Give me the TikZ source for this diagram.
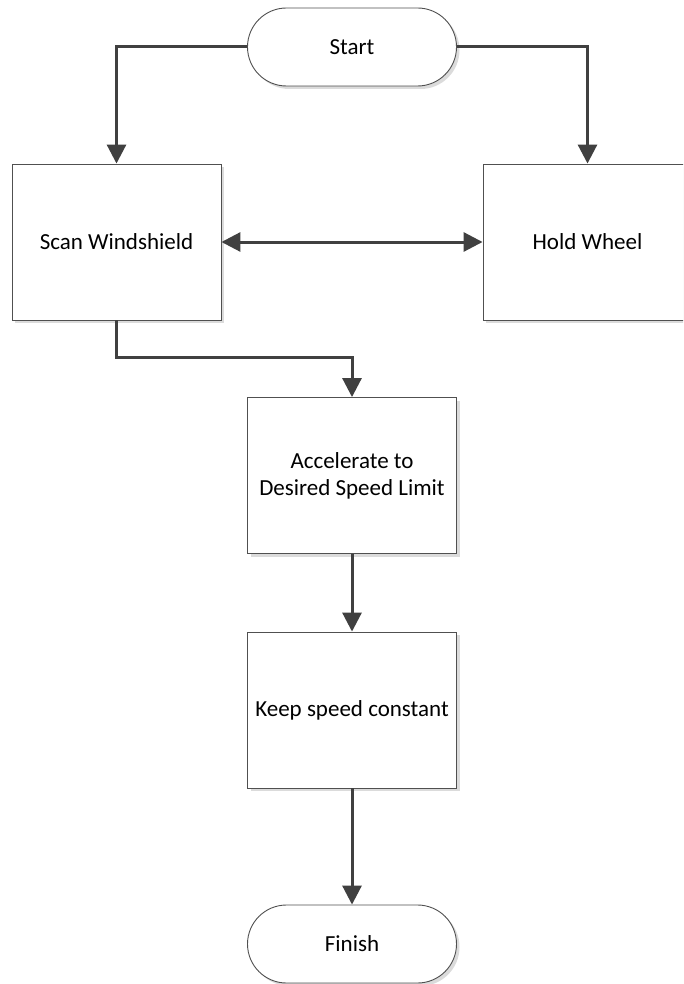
\documentclass[tikz,border=0pt]{standalone}
\usepackage{fontspec}
\setmainfont{Carlito}
\usetikzlibrary{arrows.meta,shadows}
\definecolor{linegray}{HTML}{404040}
\definecolor{edgegray}{HTML}{505050}
\tikzset{
  shade box/.style={drop shadow={shadow xshift=3pt,shadow yshift=-3pt,fill=black!14,opacity=1}},
  process/.style={rectangle,draw=edgegray,line width=0.9pt,fill=white,shade box,
    minimum width=209pt,minimum height=156pt,align=center,inner sep=0pt,
    font=\fontsize{23}{27}\selectfont},
  terminal/.style={rectangle,rounded corners=39pt,draw=edgegray,line width=0.9pt,fill=white,shade box,
    minimum width=209pt,minimum height=78pt,inner sep=0pt,
    font=\fontsize{23}{27}\selectfont},
  flow/.style={draw=linegray,line width=3pt,-{Triangle[length=19pt,width=19pt]}},
  twoway/.style={draw=linegray,line width=3pt,{Triangle[length=19pt,width=19pt]}-{Triangle[length=19pt,width=19pt]}}
}
\begin{document}
\begin{tikzpicture}[x=1pt,y=-1pt]
  \useasboundingbox[clip] (0,0) rectangle (683,984);
  \fill[white] (0,0) rectangle (683,984);

  \node[terminal] (start) at (352,47) {Start};
  \node[process] (scan) at (116.5,242) {Scan Windshield};
  \node[process] (hold) at (587.5,242) {Hold Wheel};
  \node[process] (accel) at (352,475.5) {Accelerate to\\Desired Speed Limit};
  \node[process] (keep) at (352,710) {Keep speed constant};
  \node[terminal] (finish) at (352,944) {Finish};

  \draw[flow] (start.west) -| (scan.north);
  \draw[flow] (start.east) -| (hold.north);
  \draw[twoway] (scan.east) -- (hold.west);
  \draw[flow] (scan.south) -- ++(0,37) -| (accel.north);
  \draw[flow] (accel.south) -- (keep.north);
  \draw[flow] (keep.south) -- (finish.north);
\end{tikzpicture}
\end{document}
